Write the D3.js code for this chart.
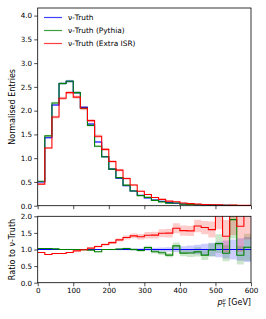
<!DOCTYPE html>
<html>
<head>
<meta charset="utf-8">
<script src="https://cdn.jsdelivr.net/npm/d3@7"></script>
<style>
  body { margin: 0; background: #fff; }
  text { font-family: "DejaVu Sans", sans-serif; }
</style>
</head>
<body>
<div id="chart"></div>
<script>
// Chart size
var width  = 266;
var height = 319;

// Bin edges: 0 .. 600 GeV in 20 GeV steps
var binWidth = 20;
var binStarts = [0, 20, 40, 60, 80, 100, 120, 140, 160, 180, 200, 220, 240, 260, 280,
                 300, 320, 340, 360, 380, 400, 420, 440, 460, 480, 500, 520, 540, 560, 580];

// Normalised entries per bin
var truth = [0.50, 1.43, 2.12, 2.57, 2.62, 2.38, 2.07, 1.72, 1.34, 1.03,
             0.77, 0.58, 0.42, 0.31, 0.22, 0.165, 0.12, 0.09, 0.065, 0.05,
             0.037, 0.028, 0.021, 0.016, 0.012, 0.009, 0.007, 0.005, 0.004, 0.003];
var pythia = [0.515, 1.47, 2.16, 2.57, 2.62, 2.38, 2.05, 1.69, 1.25, 1.03,
              0.77, 0.59, 0.433, 0.31, 0.213, 0.175, 0.112, 0.081, 0.054, 0.0555,
              0.033, 0.025, 0.0195, 0.0133, 0.0118, 0.0106, 0.0062, 0.0095, 0.0033, 0.0032];
var extraISR = [0.455, 1.215, 1.865, 2.26, 2.38, 2.285, 2.05, 1.79, 1.46, 1.185,
                0.93, 0.748, 0.571, 0.437, 0.304, 0.236, 0.172, 0.134, 0.097, 0.082,
                0.058, 0.0437, 0.0359, 0.0266, 0.0192, 0.0207, 0.0098, 0.012, 0.0068, 0.0078];

// Relative uncertainties (band half widths, as a fraction)
var truthErr = [0.01, 0.01, 0.01, 0.01, 0.01, 0.01, 0.01, 0.01, 0.012, 0.014,
                0.016, 0.02, 0.024, 0.03, 0.035, 0.04, 0.05, 0.06, 0.07, 0.08,
                0.1, 0.12, 0.14, 0.17, 0.2, 0.23, 0.27, 0.3, 0.34, 0.38];
var pythiaErr = [0.012, 0.012, 0.012, 0.012, 0.012, 0.012, 0.012, 0.014, 0.016, 0.018,
                 0.02, 0.024, 0.028, 0.034, 0.04, 0.05, 0.06, 0.07, 0.08, 0.09,
                 0.11, 0.13, 0.15, 0.18, 0.2, 0.24, 0.27, 0.3, 0.34, 0.38];
var isrErr = [0.015, 0.015, 0.015, 0.015, 0.015, 0.015, 0.02, 0.02, 0.025, 0.03,
              0.035, 0.04, 0.045, 0.05, 0.06, 0.07, 0.07, 0.08, 0.09, 0.09,
              0.1, 0.1, 0.11, 0.12, 0.15, 0.3, 0.35, 0.4, 0.45, 0.5];

var series = [
    { name: "\u03bd-Truth",              values: truth,    err: truthErr,  color: "#0000ff" },
    { name: "\u03bd-Truth (Pythia)",     values: pythia,   err: pythiaErr, color: "#008000" },
    { name: "\u03bd-Truth (Extra ISR)",  values: extraISR, err: isrErr,    color: "#ff0000" }
];

var xTicks = [0, 100, 200, 300, 400, 500, 600];
var yTicksMain = [0, 0.5, 1, 1.5, 2, 2.5, 3, 3.5, 4];
var yTicksRatio = [0, 0.5, 1, 1.5, 2];

// Layout
var left = 37.7, right = 251;
var mainTop = 8, mainBottom = 205.7;
var ratioTop = 216.3, ratioBottom = 282.7;

var x = d3.scaleLinear().domain([0, 600]).range([left, right]);
var yMain = d3.scaleLinear().domain([0, 4.16]).range([mainBottom, mainTop]);
var yRatio = d3.scaleLinear().domain([0, 2]).range([ratioBottom, ratioTop]);

var svg = d3.select("#chart").append("svg")
    .attr("width", width)
    .attr("height", height);

var defs = svg.append("defs");
defs.append("clipPath").attr("id", "clipMain").append("rect")
    .attr("x", left).attr("y", mainTop)
    .attr("width", right - left).attr("height", mainBottom - mainTop);
defs.append("clipPath").attr("id", "clipRatio").append("rect")
    .attr("x", left).attr("y", ratioTop)
    .attr("width", right - left).attr("height", ratioBottom - ratioTop);

// Turn per-bin values into step points (with closing edge)
function stepPoints(vals, lo, hi) {
    var pts = binStarts.map(function(b, i) {
        return { x: b, v: vals[i], lo: lo ? lo[i] : 0, hi: hi ? hi[i] : 0 };
    });
    var last = pts[pts.length - 1];
    pts.push({ x: binStarts[binStarts.length - 1] + binWidth, v: last.v, lo: last.lo, hi: last.hi });
    return pts;
}

function drawPanel(g, yScale, getVals) {
    var line = d3.line().curve(d3.curveStepAfter)
        .x(d => x(d.x)).y(d => yScale(d.v));
    var area = d3.area().curve(d3.curveStepAfter)
        .x(d => x(d.x)).y0(d => yScale(d.lo)).y1(d => yScale(d.hi));

    series.forEach(function(s) {
        var r = getVals(s);
        var lo = r.map((v, i) => v * (1 - s.err[i]));
        var hi = r.map((v, i) => v * (1 + s.err[i]));
        g.append("path")
            .datum(stepPoints(r, lo, hi))
            .attr("d", area)
            .attr("fill", s.color)
            .attr("fill-opacity", 0.2)
            .attr("stroke", "none");
    });
    series.forEach(function(s) {
        g.append("path")
            .datum(stepPoints(getVals(s)))
            .attr("d", line)
            .attr("fill", "none")
            .attr("stroke", s.color)
            .attr("stroke-width", 1.1);
    });
}

// Main panel
var gMain = svg.append("g").attr("clip-path", "url(#clipMain)");
drawPanel(gMain, yMain, s => s.values);

// Ratio panel
var gRatio = svg.append("g").attr("clip-path", "url(#clipRatio)");
drawPanel(gRatio, yRatio, s => s.values.map((v, i) => v / truth[i]));

// Axes
function styleAxis(g) {
    g.selectAll("path").remove();
    g.selectAll("line").attr("stroke", "#000").attr("stroke-width", 0.7);
    g.selectAll("text").attr("font-size", "7.2px").attr("fill", "#000");
}

svg.append("g")
    .attr("transform", "translate(0," + mainBottom + ")")
    .call(d3.axisBottom(x).tickValues(xTicks).tickSize(3.5).tickFormat(""))
    .call(styleAxis);
svg.append("g")
    .attr("transform", "translate(" + left + ",0)")
    .call(d3.axisLeft(yMain).tickValues(yTicksMain).tickSize(3.5).tickPadding(2).tickFormat(d3.format(".1f")))
    .call(styleAxis);

svg.append("g")
    .attr("transform", "translate(0," + ratioBottom + ")")
    .call(d3.axisBottom(x).tickValues(xTicks).tickSize(3.5).tickPadding(1.5).tickFormat(d3.format("d")))
    .call(styleAxis);
svg.append("g")
    .attr("transform", "translate(" + left + ",0)")
    .call(d3.axisLeft(yRatio).tickValues(yTicksRatio).tickSize(3.5).tickPadding(2).tickFormat(d3.format(".1f")))
    .call(styleAxis);

// Frames
[[mainTop, mainBottom], [ratioTop, ratioBottom]].forEach(function(p) {
    svg.append("rect")
        .attr("x", left).attr("y", p[0])
        .attr("width", right - left).attr("height", p[1] - p[0])
        .attr("fill", "none")
        .attr("stroke", "#000")
        .attr("stroke-width", 0.8);
});

// Axis labels
svg.append("text")
    .attr("transform", "translate(12," + ((mainTop + mainBottom) / 2) + ") rotate(-90)")
    .attr("text-anchor", "middle")
    .attr("dy", "0.35em")
    .attr("font-size", "8px")
    .text("Normalised Entries");

svg.append("text")
    .attr("transform", "translate(12," + ((ratioTop + ratioBottom) / 2) + ") rotate(-90)")
    .attr("text-anchor", "middle")
    .attr("dy", "0.35em")
    .attr("font-size", "8px")
    .text("Ratio to \u03bd-Truth");

var xl = svg.append("text")
    .attr("x", right)
    .attr("y", 305)
    .attr("text-anchor", "end")
    .attr("font-size", "8px");
xl.append("tspan").attr("font-style", "italic").text("p");
xl.append("tspan").attr("font-size", "5.5px").attr("font-style", "italic").attr("dy", "-3.5").text("\u03bd");
xl.append("tspan").attr("font-size", "5.5px").attr("dx", "-3.3").attr("dy", "5.5").text("T");
xl.append("tspan").attr("dy", "-2").text(" [GeV]");

// Legend
var legend = svg.append("g");
series.forEach(function(s, i) {
    var yy = 17.5 + i * 13;
    legend.append("line")
        .attr("x1", 44).attr("x2", 62)
        .attr("y1", yy).attr("y2", yy)
        .attr("stroke", s.color)
        .attr("stroke-opacity", 0.75)
        .attr("stroke-width", 1.2);
    legend.append("text")
        .attr("x", 68).attr("y", yy)
        .attr("dy", "0.35em")
        .attr("font-size", "7.4px")
        .text(s.name);
});
</script>
</body>
</html>
